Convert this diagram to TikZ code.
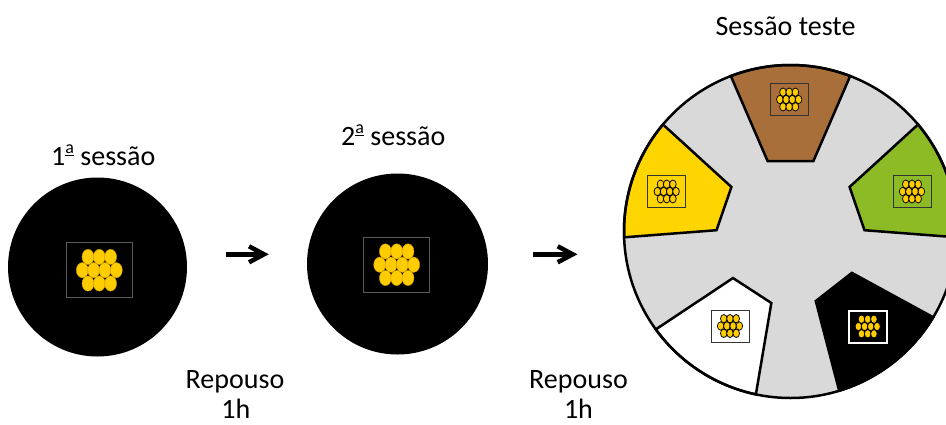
\documentclass[tikz,border=0pt]{standalone}
\usepackage{fontspec}
\setmainfont{Carlito}
\usetikzlibrary{calc}

\definecolor{eggyellow}{HTML}{FFCC00}
\definecolor{eggedge}{HTML}{C79A00}
\definecolor{arenagray}{HTML}{D9D9D9}
\definecolor{soilbrown}{HTML}{A86F3B}
\definecolor{leafgreen}{HTML}{8DBB25}
\definecolor{sunyellow}{HTML}{FFD500}
\definecolor{traygray}{HTML}{5A5A5A}

% underlined feminine ordinal, as set by the sans-serif office font
\newcommand\ordsup{\setbox0\hbox{\fontsize{18}{18}\selectfont a}%
  \raisebox{12pt}{\copy0}\kern-\wd0\rule[9.3pt]{\wd0}{1.4pt}}

\tikzset{
  label/.style={font=\fontsize{28}{30}\selectfont, anchor=base, inner sep=0pt},
  dish/.style={fill=black, draw=none},
  bigtray/.style={draw=traygray, line width=1pt, minimum width=66pt, minimum height=55pt, inner sep=0pt},
  smalltray/.style={draw=black!80, line width=1pt, minimum width=38pt, minimum height=32pt, inner sep=0pt},
  darktray/.style={draw=white, line width=2pt, fill=black, minimum width=38pt, minimum height=32pt, inner sep=0pt},
  bigegg/.style={fill=eggyellow, draw=eggedge, line width=0.4pt},
  smallegg/.style={fill=eggyellow, draw=black, line width=0.75pt},
  sector/.style={draw=black, line width=2.5pt, line join=miter},
  arrowline/.style={line width=4.5pt, line join=miter},
  pics/eggcluster/.style={code={
    \foreach \ex/\ey in {-11.3/13.3,0/13.3,11.3/13.3,-17/0,-5.65/0,5.65/0,17/0,-11.3/-13.3,0/-13.3,11.3/-13.3}
      \path[#1] (\ex,\ey) ellipse [x radius=6, y radius=7.6];
  }},
}

\begin{document}
\begin{tikzpicture}[x=1pt, y=1pt]
\useasboundingbox (0,0) rectangle (946,-424);

% ---- first session arena ----
\node[label] (title1) at (103.3,-165.7) {1\ordsup\ sessão};
\fill[dish] (97.5,-267) circle [radius=89.5];
\node[bigtray] (tray1) at (99.3,-270.2) {};
\pic at (tray1) {eggcluster=bigegg};

% ---- second session arena ----
\node[label] (title2) at (393.3,-145.7) {2\ordsup\ sessão};
\fill[dish] (397.5,-264) circle [radius=90.5];
\node[bigtray] (tray2) at (396.7,-264.7) {};
\pic at (tray2) {eggcluster=bigegg};

% ---- rest intervals ----
\node[label] (rest1) at (235,-388.3) {Repouso};
\node[label] (rest1h) at (235.8,-418.8) {1h};
\node[label] (rest2) at (578.5,-388.3) {Repouso};
\node[label] (rest2h) at (578.5,-418.8) {1h};

% ---- arrows between sessions ----
\coordinate (a1s) at (226,-254.3);
\coordinate (a1e) at (264,-254.3);
\coordinate (a2s) at (533.3,-254.3);
\coordinate (a2e) at (572.7,-254.3);
\foreach \s/\e in {a1s/a1e, a2s/a2e}{
  \draw[arrowline] (\s) -- (\e);
  \draw[arrowline] ($(\e)+(-15,8)$) -- (\e) -- ($(\e)+(-15,-8)$);
}

% ---- test session: choice arena ----
\node[label] (title3) at (785.5,-35) {Sessão teste};
\coordinate (arena) at (790.5,-231.5);
\begin{scope}[shift={(arena)}]
  \fill[arenagray] (0,0) circle [radius=166.5];
  \filldraw[sector, fill=soilbrown] (72:74) -- (69:166.5) arc [start angle=69, end angle=111, radius=166.5] -- (108:74) -- cycle;
  \filldraw[sector, fill=sunyellow] (143:74) -- (140:166.5) arc [start angle=140, end angle=182, radius=166.5] -- (179:74) -- cycle;
  \filldraw[sector, fill=leafgreen] (1:74) -- (-2:166.5) arc [start angle=-2, end angle=40, radius=166.5] -- (37:74) -- cycle;
  \filldraw[sector, fill=white] (219:74) -- (216:166.5) arc [start angle=216, end angle=258, radius=166.5] -- (255:74) -- cycle;
  \filldraw[sector, fill=black] (290:74) -- (287:166.5) arc [start angle=287, end angle=329, radius=166.5] -- (326:74) -- cycle;
  \draw[line width=2.5pt] (0,0) circle [radius=166.5];
\end{scope}

% trays inside the choice arena
\node[smalltray] (trayB) at (789.2,-99.5) {};
\node[smalltray] (trayY) at (666.7,-191.5) {};
\node[smalltray] (trayG) at (912,-191.5) {};
\node[smalltray] (trayW) at (730,-326) {};
\node[darktray]  (trayK) at (867.7,-326.5) {};
\foreach \t in {trayB, trayY, trayG, trayW, trayK}
  \pic[scale=0.55] at (\t) {eggcluster=smallegg};
\end{tikzpicture}
\end{document}
